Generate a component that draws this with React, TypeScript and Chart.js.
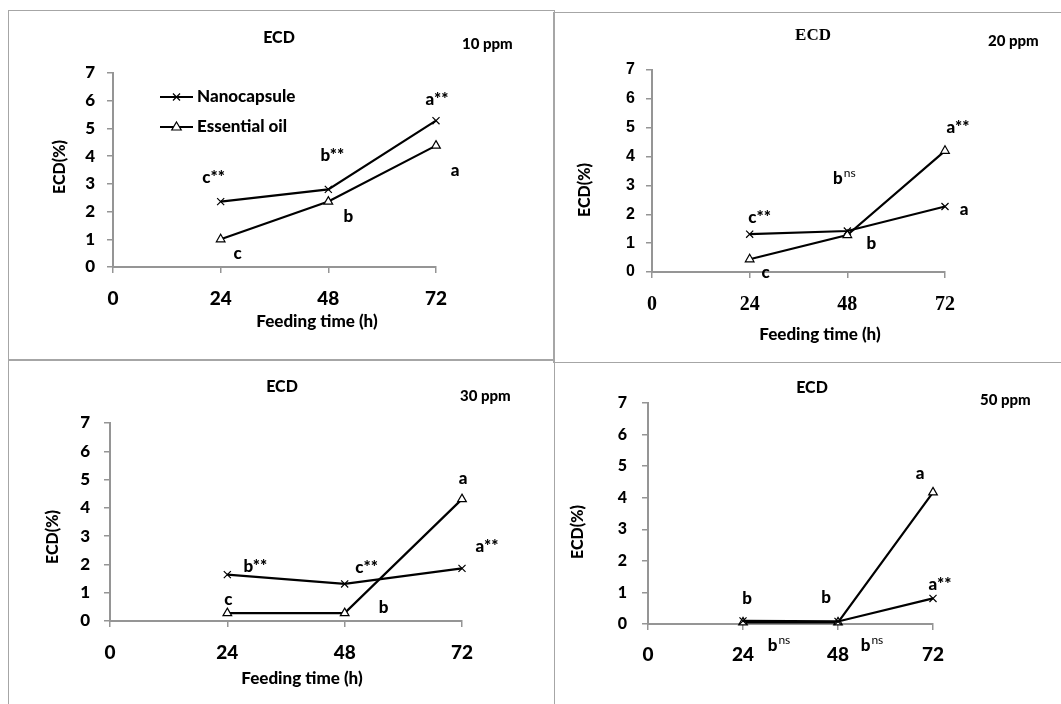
import React, { useEffect, useRef } from "react";
import { Chart, registerables } from "chart.js";

Chart.register(...registerables);

// ---------------- data ----------------
const hours = [24, 48, 72];
const xTickValues = [0, 24, 48, 72];
const yMin = 0;
const yMax = 7;
const yStep = 1;
const seriesNames = ["Nanocapsule", "Essential oil"];
const chartTitle = "ECD";
const xAxisTitle = "Feeding time (h)";
const yAxisTitle = "ECD(%)";
const doseLabels = ["10 ppm", "20 ppm", "30 ppm", "50 ppm"];

const nano10 = [2.36, 2.8, 5.28];
const oil10 = [1.0, 2.36, 4.38];
const nano20 = [1.31, 1.42, 2.27];
const oil20 = [0.44, 1.28, 4.2];
const nano30 = [1.64, 1.31, 1.86];
const oil30 = [0.28, 0.28, 4.31];
const nano50 = [0.1, 0.08, 0.81];
const oil50 = [0.05, 0.05, 4.17];

// significance letters ("^" marks a superscript part)
const nanoLetters10 = ["c**", "b**", "a**"];
const oilLetters10 = ["c", "b", "a"];
const nanoLetters20 = ["c**", "b^ns", "a"];
const oilLetters20 = ["c", "b", "a**"];
const nanoLetters30 = ["b**", "c**", "a**"];
const oilLetters30 = ["c", "b", "a"];
const nanoLetters50 = ["b", "b", "a**"];
const oilLetters50 = ["b^ns", "b^ns", "a"];

// ---------------- styles / layout ----------------
const LATO = "Lato, 'Open Sans', sans-serif";
const ARIAL = "'Liberation Sans', Arial, sans-serif";
const TIMES = "'Liberation Serif', 'Times New Roman', serif";
const HEAVY = "900";
const AXIS_GRAY = "#959595";
const FRAME_GRAY = "#a6a6a6";
const LETTER_SIZE = 17;
const SUP_SIZE = 12;

type Box = { left: number; top: number; width: number; height: number };
type Layout = {
  box: Box;
  borders: [number, number, number, number]; // top right bottom left
  area: { left: number; right: number; top: number; bottom: number }; // page coords
  yTickFont: { family: string; size: number; weight: string };
  xTickFont: { family: string; size: number; weight: string };
  yTickPad: number;
  xTickPad: number;
  title: { x: number; y: number; family: string; size: number; weight: string };
  dose: { x: number; y: number };
  xTitle: { x: number; y: number } | null;
  yTitle: { x: number; y: number };
  nanoOffsets: [number, number][];
  oilOffsets: [number, number][];
  legend: { x0: number; x1: number; textX: number; rows: number[] } | null;
};

type Spec = {
  nano: number[];
  oil: number[];
  nanoLetters: string[];
  oilLetters: string[];
  dose: string;
  layout: Layout;
};

const layout1: Layout = {
  box: { left: 8, top: 10, width: 547, height: 350 },
  borders: [1, 1, 1, 1],
  area: { left: 113, right: 436, top: 73, bottom: 267 },
  yTickFont: { family: LATO, size: 17, weight: HEAVY },
  xTickFont: { family: LATO, size: 19, weight: HEAVY },
  yTickPad: 12,
  xTickPad: 14,
  title: { x: 279, y: 38, family: LATO, size: 16, weight: HEAVY },
  dose: { x: 462, y: 44 },
  xTitle: { x: 317, y: 322 },
  yTitle: { x: 60, y: 167 },
  nanoOffsets: [[-7, -24], [4, -34], [1, -21]],
  oilOffsets: [[17, 14], [20, 15], [19, 25]],
  legend: { x0: 160, x1: 193, textX: 197, rows: [97, 127] },
};

const layout2: Layout = {
  box: { left: 553, top: 12, width: 508, height: 351 },
  borders: [1, 0, 1, 1],
  area: { left: 652, right: 945, top: 70, bottom: 272 },
  yTickFont: { family: ARIAL, size: 16, weight: "bold" },
  xTickFont: { family: TIMES, size: 20, weight: "bold" },
  yTickPad: 11,
  xTickPad: 15,
  title: { x: 813, y: 36, family: TIMES, size: 17, weight: "bold" },
  dose: { x: 988, y: 41 },
  xTitle: { x: 820, y: 335 },
  yTitle: { x: 585, y: 190 },
  nanoOffsets: [[10, -17], [-3, -53], [19, 3]],
  oilOffsets: [[16, 13], [24, 8], [13, -23]],
  legend: null,
};

const layout3: Layout = {
  box: { left: 8, top: 360, width: 547, height: 344 },
  borders: [1, 1, 0, 1],
  area: { left: 110, right: 462, top: 423, bottom: 621 },
  yTickFont: { family: LATO, size: 17, weight: HEAVY },
  xTickFont: { family: LATO, size: 19, weight: HEAVY },
  yTickPad: 14,
  xTickPad: 14,
  title: { x: 282, y: 387, family: LATO, size: 16, weight: HEAVY },
  dose: { x: 460, y: 396 },
  xTitle: { x: 302, y: 679 },
  yTitle: { x: 53, y: 537 },
  nanoOffsets: [[28, -8], [22, -16], [25, -22]],
  oilOffsets: [[1, -14], [39, -6], [1, -21]],
  legend: null,
};

const layout4: Layout = {
  box: { left: 554, top: 362, width: 507, height: 342 },
  borders: [1, 0, 0, 1],
  area: { left: 648, right: 933, top: 403, bottom: 624 },
  yTickFont: { family: LATO, size: 16, weight: HEAVY },
  xTickFont: { family: LATO, size: 19, weight: HEAVY },
  yTickPad: 15,
  xTickPad: 13,
  title: { x: 812, y: 388, family: LATO, size: 16, weight: HEAVY },
  dose: { x: 980, y: 400 },
  xTitle: null,
  yTitle: { x: 578, y: 532 },
  nanoOffsets: [[4, -22], [-12, -24], [7, -14]],
  oilOffsets: [[36, 23], [34, 23], [-13, -19]],
  legend: null,
};

const specs: Spec[] = [
  { nano: nano10, oil: oil10, nanoLetters: nanoLetters10, oilLetters: oilLetters10, dose: doseLabels[0], layout: layout1 },
  { nano: nano20, oil: oil20, nanoLetters: nanoLetters20, oilLetters: oilLetters20, dose: doseLabels[1], layout: layout2 },
  { nano: nano30, oil: oil30, nanoLetters: nanoLetters30, oilLetters: oilLetters30, dose: doseLabels[2], layout: layout3 },
  { nano: nano50, oil: oil50, nanoLetters: nanoLetters50, oilLetters: oilLetters50, dose: doseLabels[3], layout: layout4 },
];

// ---------------- drawing helpers ----------------
function drawLetter(ctx: CanvasRenderingContext2D, text: string, cx: number, cy: number) {
  const [base, sup] = text.split("^");
  ctx.font = `${HEAVY} ${LETTER_SIZE}px ${LATO}`;
  const wb = ctx.measureText(base).width;
  let ws = 0;
  if (sup) {
    ctx.font = `${SUP_SIZE}px ${LATO}`;
    ws = ctx.measureText(sup).width + 1;
  }
  const start = cx - (wb + ws) / 2;
  ctx.textAlign = "left";
  ctx.textBaseline = "middle";
  ctx.font = `${HEAVY} ${LETTER_SIZE}px ${LATO}`;
  ctx.fillText(base, start, cy);
  if (sup) {
    ctx.font = `${SUP_SIZE}px ${LATO}`;
    ctx.fillText(sup, start + wb + 1, cy - 5);
  }
}

function drawMarker(ctx: CanvasRenderingContext2D, style: string, x: number, y: number) {
  ctx.save();
  ctx.lineWidth = 1.2;
  ctx.strokeStyle = "#000";
  const r = 5;
  if (style === "crossRot") {
    const d = r * Math.SQRT1_2;
    ctx.beginPath();
    ctx.moveTo(x - d, y - d);
    ctx.lineTo(x + d, y + d);
    ctx.moveTo(x + d, y - d);
    ctx.lineTo(x - d, y + d);
    ctx.stroke();
  } else {
    ctx.fillStyle = "#fff";
    ctx.beginPath();
    ctx.moveTo(x, y - r);
    ctx.lineTo(x + r * 0.95, y + r * 0.6);
    ctx.lineTo(x - r * 0.95, y + r * 0.6);
    ctx.closePath();
    ctx.fill();
    ctx.stroke();
  }
  ctx.restore();
}

function buildConfig(spec: Spec): any {
  const L = spec.layout;
  const ox = L.box.left;
  const oy = L.box.top;
  const W = L.box.width;
  const H = L.box.height;
  const area = {
    left: L.area.left - ox,
    right: L.area.right - ox,
    top: L.area.top - oy,
    bottom: L.area.bottom - oy,
  };
  const pointStyles = ["crossRot", "triangle"];

  const overlay = {
    id: "overlay",
    afterDatasetsDraw(chart: any) {
      const ctx: CanvasRenderingContext2D = chart.ctx;
      ctx.save();
      ctx.fillStyle = "#000";
      // chart title
      ctx.textAlign = "center";
      ctx.textBaseline = "middle";
      ctx.font = `${L.title.weight} ${L.title.size}px ${L.title.family}`;
      ctx.fillText(chartTitle, L.title.x - ox, L.title.y - oy);
      // dose label
      ctx.textAlign = "left";
      ctx.font = `${HEAVY} 15px ${LATO}`;
      ctx.fillText(spec.dose, L.dose.x - ox, L.dose.y - oy);
      // x axis title
      if (L.xTitle) {
        ctx.textAlign = "center";
        ctx.font = `${HEAVY} 17px ${LATO}`;
        ctx.fillText(xAxisTitle, L.xTitle.x - ox, L.xTitle.y - oy);
      }
      // y axis title
      ctx.save();
      ctx.translate(L.yTitle.x - ox, L.yTitle.y - oy);
      ctx.rotate(-Math.PI / 2);
      ctx.textAlign = "center";
      ctx.font = `${HEAVY} 16px ${LATO}`;
      ctx.fillText(yAxisTitle, 0, 0);
      ctx.restore();
      // significance letters, anchored on data points
      const letterSets = [spec.nanoLetters, spec.oilLetters];
      const offsetSets = [L.nanoOffsets, L.oilOffsets];
      chart.data.datasets.forEach((_: any, di: number) => {
        const meta = chart.getDatasetMeta(di);
        letterSets[di].forEach((txt, i) => {
          const el = meta.data[i];
          const [dx, dy] = offsetSets[di][i];
          drawLetter(ctx, txt, el.x + dx, el.y + dy);
        });
      });
      // legend
      if (L.legend) {
        const lg = L.legend;
        seriesNames.forEach((name, i) => {
          const y = lg.rows[i] - oy;
          ctx.strokeStyle = "#000";
          ctx.lineWidth = 2.2;
          ctx.beginPath();
          ctx.moveTo(lg.x0 - ox, y);
          ctx.lineTo(lg.x1 - ox, y);
          ctx.stroke();
          drawMarker(ctx, pointStyles[i], (lg.x0 + lg.x1) / 2 - ox, y);
          ctx.fillStyle = "#000";
          ctx.textAlign = "left";
          ctx.textBaseline = "middle";
          ctx.font = `${HEAVY} 17px ${LATO}`;
          ctx.fillText(name, lg.textX - ox, y);
        });
      }
      ctx.restore();
    },
  };

  const mkData = (vals: number[]) => hours.map((h, i) => ({ x: h, y: vals[i] }));

  return {
    type: "line",
    data: {
      datasets: [
        {
          label: seriesNames[0],
          data: mkData(spec.nano),
          borderColor: "#000",
          borderWidth: 2.2,
          pointStyle: "crossRot",
          pointRadius: 5,
          pointBorderWidth: 1.2,
          pointBorderColor: "#000",
          pointBackgroundColor: "#000",
          clip: false,
          tension: 0,
        },
        {
          label: seriesNames[1],
          data: mkData(spec.oil),
          borderColor: "#000",
          borderWidth: 2.2,
          pointStyle: "triangle",
          pointRadius: 5,
          pointBorderWidth: 1.2,
          pointBorderColor: "#000",
          pointBackgroundColor: "#fff",
          clip: false,
          tension: 0,
        },
      ],
    },
    options: {
      responsive: false,
      animation: false,
      events: [],
      layout: { padding: { left: 0, top: area.top, right: W - area.right, bottom: 0 } },
      plugins: { legend: { display: false }, title: { display: false }, tooltip: { enabled: false } },
      scales: {
        x: {
          type: "linear",
          min: xTickValues[0],
          max: xTickValues[xTickValues.length - 1],
          afterBuildTicks: (s: any) => {
            s.ticks = xTickValues.map((v) => ({ value: v }));
          },
          afterFit: (s: any) => {
            s.height = H - area.bottom;
          },
          ticks: {
            color: "#000",
            font: { family: L.xTickFont.family, size: L.xTickFont.size, weight: L.xTickFont.weight },
            padding: L.xTickPad,
            maxRotation: 0,
            autoSkip: false,
          },
          grid: { display: true, drawOnChartArea: false, drawTicks: true, tickLength: 6, color: AXIS_GRAY, lineWidth: 1.5 },
          border: { display: true, color: AXIS_GRAY, width: 2 },
        },
        y: {
          type: "linear",
          min: yMin,
          max: yMax,
          afterFit: (s: any) => {
            s.width = area.left;
          },
          ticks: {
            stepSize: yStep,
            color: "#000",
            font: { family: L.yTickFont.family, size: L.yTickFont.size, weight: L.yTickFont.weight },
            padding: L.yTickPad,
          },
          grid: { display: true, drawOnChartArea: false, drawTicks: true, tickLength: 6, color: AXIS_GRAY, lineWidth: 1.5 },
          border: { display: true, color: AXIS_GRAY, width: 2 },
        },
      },
    },
    plugins: [overlay],
  };
}

function Panel({ spec }: { spec: Spec }) {
  const ref = useRef<HTMLCanvasElement>(null);
  useEffect(() => {
    const chart = new Chart(ref.current as HTMLCanvasElement, buildConfig(spec));
    return () => chart.destroy();
  }, [spec]);
  const b = spec.layout.box;
  const [bt, br, bb, bl] = spec.layout.borders;
  return (
    <>
      <div
        style={{
          position: "absolute",
          left: b.left,
          top: b.top,
          width: b.width,
          height: b.height,
          boxSizing: "border-box",
          borderStyle: "solid",
          borderColor: FRAME_GRAY,
          borderWidth: `${bt}px ${br}px ${bb}px ${bl}px`,
        }}
      />
      <canvas
        ref={ref}
        width={b.width}
        height={b.height}
        style={{ position: "absolute", left: b.left, top: b.top, width: b.width, height: b.height }}
      />
    </>
  );
}

export default function App() {
  return (
    <div
      style={{
        position: "fixed",
        left: 0,
        top: 0,
        width: 1061,
        height: 704,
        overflow: "hidden",
        background: "#fff",
      }}
    >
      {specs.map((s, i) => (
        <Panel key={i} spec={s} />
      ))}
    </div>
  );
}
